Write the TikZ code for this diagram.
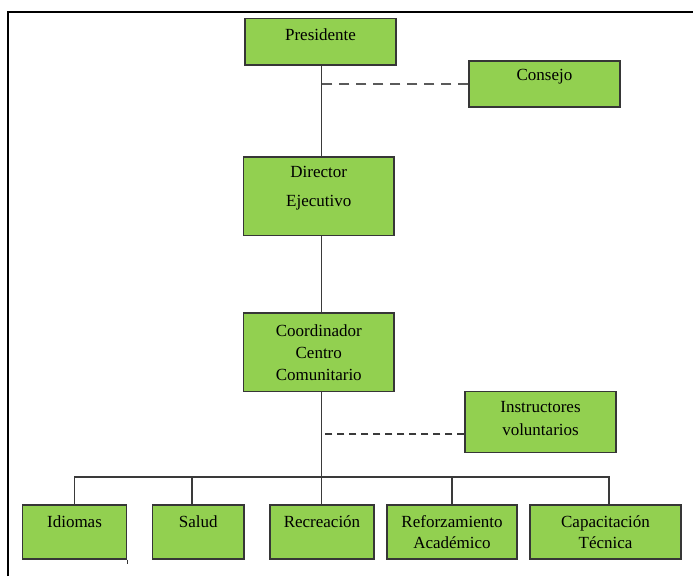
\documentclass[tikz,border=0pt]{standalone}
\usepackage{fontspec}
\setmainfont{Liberation Serif}
\definecolor{boxgreen}{HTML}{92D050}
\definecolor{boxline}{HTML}{363636}
\definecolor{linkgray}{HTML}{3A3A3A}
\definecolor{dashgray}{HTML}{5A5A5A}
\begin{document}
\begin{tikzpicture}[x=1pt,y=-1pt,
  box/.style={draw=boxline, fill=boxgreen, line width=1.3pt, inner sep=0pt, rectangle},
  txt/.style={font=\rmfamily\fontsize{17}{22}\selectfont, align=center, inner sep=0pt, text=black},
  link/.style={draw=linkgray, line width=1.1pt},
  staff/.style={draw=dashgray, line width=1.2pt, dash pattern=on 10pt off 7pt},
  staff2/.style={draw=linkgray, line width=1.1pt, dash pattern=on 7pt off 5pt},
  frame/.style={draw=black, line width=1.3pt}]
\useasboundingbox (0,0) rectangle (693,576);

% outer frame (top and left edges only)
\draw[frame] (8,576) -- (8,12) -- (693,12);

% main chain
\node[box, minimum width=151pt, minimum height=46.5pt] (pres) at (320.5,41.75) {};
\node[box, minimum width=151pt, minimum height=46pt] (cons) at (544.5,84) {};
\node[box, minimum width=150.5pt, minimum height=78.5pt] (dir) at (318.75,196.25) {};
\node[box, minimum width=150.5pt, minimum height=78.5pt] (coord) at (318.75,352.25) {};
\node[box, minimum width=151pt, minimum height=61pt] (instr) at (540.5,422) {};

% program units
\node[box, minimum width=104pt, minimum height=54pt] (idi) at (74.5,532) {};
\node[box, minimum width=91.3pt, minimum height=54pt] (sal) at (198.35,532) {};
\node[box, minimum width=104pt, minimum height=54pt] (rec) at (322,532) {};
\node[box, minimum width=130pt, minimum height=54pt] (ref) at (452,532) {};
\node[box, minimum width=151pt, minimum height=54pt] (cap) at (605.5,532) {};

% labels
\node[txt] (pres-t) at ([yshift=6.75pt]pres.center) {Presidente};
\node[txt] (cons-t) at ([yshift=7pt]cons.center) {Consejo};
\node[txt, font=\rmfamily\fontsize{17}{29}\selectfont] (dir-t) at ([yshift=7.75pt]dir.center) {Director\\Ejecutivo};
\node[txt] (coord-t) at (coord.center) {Coordinador\\Centro\\Comunitario};
\node[txt, font=\rmfamily\fontsize{17}{23}\selectfont] (instr-t) at ([yshift=3.5pt]instr.center) {Instructores\\voluntarios};
\node[txt] (idi-t) at ([yshift=10pt]idi.center) {Idiomas};
\node[txt] (sal-t) at ([yshift=10pt]sal.center) {Salud};
\node[txt] (rec-t) at ([yshift=10pt]rec.center) {Recreación};
\node[txt, font=\rmfamily\fontsize{17}{21}\selectfont] (ref-t) at (ref.center) {Reforzamiento\\Académico};
\node[txt, font=\rmfamily\fontsize{17}{21}\selectfont] (cap-t) at (cap.center) {Capacitación\\Técnica};

% reporting lines
\coordinate (spine) at (321.5,0);
\coordinate (busR) at (609,477);
\draw[link] (pres.south -| spine) -- (dir.north -| spine);
\draw[link] (dir.south -| spine) -- (coord.north -| spine);
\draw[link] (coord.south -| spine) -- (rec.north -| spine);
\draw[link] (idi.north) |- (busR) -- (cap.north -| busR);
\draw[link] ([xshift=-6.35pt]sal.north) -- ([xshift=-6.35pt]sal.north |- busR);
\draw[link] (ref.north) -- (ref.north |- busR);

% advisory lines
\draw[staff] (cons.west) -- (cons.west -| spine);
\draw[staff2] ([yshift=-12pt]instr.west) -- ([yshift=-12pt]instr.west -| spine);

% small stray stroke under Idiomas
\draw[draw=boxline, line width=1.3pt] (idi.south east) -- ++(0,4);
\end{tikzpicture}
\end{document}
